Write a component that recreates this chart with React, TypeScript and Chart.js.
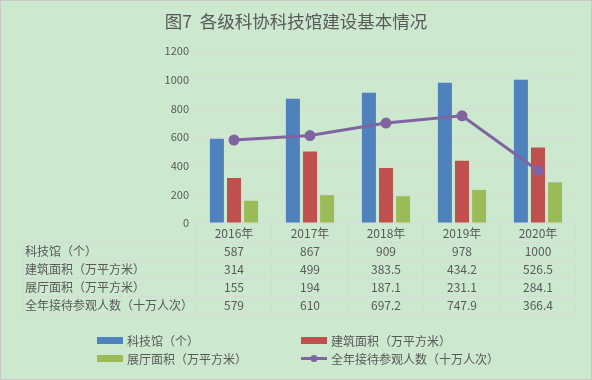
import React, { useEffect, useRef } from "react";
import { Chart, registerables } from "chart.js";

Chart.register(...registerables);

const title = "图7  各级科协科技馆建设基本情况";
const categories = ["2016年", "2017年", "2018年", "2019年", "2020年"];
const seriesNames = [
  "科技馆（个）",
  "建筑面积（万平方米）",
  "展厅面积（万平方米）",
  "全年接待参观人数（十万人次）",
];
const museums = [587, 867, 909, 978, 1000];
const buildingArea = [314, 499, 383.5, 434.2, 526.5];
const hallArea = [155, 194, 187.1, 231.1, 284.1];
const visitors = [579, 610, 697.2, 747.9, 366.4];
const yMin = 0;
const yMax = 1200;
const yStep = 200;

const FONT = "'Noto Sans CJK SC', 'Noto Sans', sans-serif";
const TEXT = "#595959";
const GRID = "#D9D9D9";
const BG = "#CCE8CF";
const COLORS = ["#4F81BD", "#C0504D", "#9BBB59", "#8064A2"];

const tableRows = [museums, buildingArea, hallArea, visitors];

const decorPlugin = {
  id: "decor",
  beforeDraw(chart: any) {
    const { ctx, width, height } = chart;
    ctx.save();
    ctx.fillStyle = BG;
    ctx.fillRect(0, 0, width, height);
    ctx.strokeStyle = "#C8C8C8";
    ctx.lineWidth = 1;
    ctx.strokeRect(0.5, 0.5, width - 1, height - 1);
    // title
    ctx.fillStyle = TEXT;
    ctx.font = `17.5px ${FONT}`;
    ctx.textAlign = "center";
    ctx.textBaseline = "middle";
    ctx.fillText(title, width / 2, 21);
    ctx.restore();
  },
  afterDraw(chart: any) {
    const { ctx, chartArea } = chart;
    const xs = chart.scales.x;
    const n = categories.length;
    const left = chartArea.left;
    const right = chartArea.right;
    const cw = (right - left) / n;
    const top = chartArea.bottom;
    const headerBottom = xs.bottom;
    const rowH = 18;
    const tableLeft = 23;
    const tableBottom = headerBottom + rowH * tableRows.length;
    ctx.save();
    ctx.strokeStyle = GRID;
    ctx.lineWidth = 1;
    ctx.beginPath();
    // axis line
    ctx.moveTo(left, Math.round(top) + 0.5);
    ctx.lineTo(right, Math.round(top) + 0.5);
    // horizontal row lines
    for (let r = 0; r <= tableRows.length; r++) {
      const y = Math.round(headerBottom + r * rowH) + 0.5;
      ctx.moveTo(tableLeft, y);
      ctx.lineTo(right, y);
    }
    // vertical lines
    ctx.moveTo(tableLeft + 0.5, headerBottom);
    ctx.lineTo(tableLeft + 0.5, tableBottom);
    for (let i = 0; i <= n; i++) {
      const x = Math.round(left + i * cw) - 0.5;
      ctx.moveTo(x, top);
      ctx.lineTo(x, tableBottom);
    }
    ctx.stroke();

    ctx.fillStyle = TEXT;
    ctx.font = `12px ${FONT}`;
    ctx.textBaseline = "middle";
    for (let r = 0; r < tableRows.length; r++) {
      const yc = headerBottom + r * rowH + rowH / 2 + 0.5;
      ctx.textAlign = "left";
      ctx.fillText(seriesNames[r], tableLeft + 2, yc);
      ctx.textAlign = "center";
      for (let i = 0; i < n; i++) {
        ctx.fillText(String(tableRows[r][i]), xs.getPixelForValue(i), yc);
      }
    }

    // legend
    const legendItems = [
      { x: 97, y: 340.5, i: 0 },
      { x: 301, y: 340.5, i: 1 },
      { x: 97, y: 358.5, i: 2 },
      { x: 301, y: 358.5, i: 3 },
    ];
    ctx.textAlign = "left";
    for (const it of legendItems) {
      const ds = chart.data.datasets[it.i];
      const color = ds.borderColor || ds.backgroundColor;
      if (ds.type === "line") {
        ctx.strokeStyle = color;
        ctx.lineWidth = 3;
        ctx.beginPath();
        ctx.moveTo(it.x, it.y);
        ctx.lineTo(it.x + 26, it.y);
        ctx.stroke();
        ctx.fillStyle = color;
        ctx.beginPath();
        ctx.arc(it.x + 13, it.y, 3.5, 0, Math.PI * 2);
        ctx.fill();
      } else {
        ctx.fillStyle = ds.backgroundColor;
        ctx.fillRect(it.x, it.y - 3.5, 26, 7);
      }
      ctx.fillStyle = TEXT;
      ctx.fillText(ds.label, it.x + 30, it.y + 0.5);
    }
    ctx.restore();
  },
};

export default function App() {
  const ref = useRef<HTMLCanvasElement | null>(null);
  useEffect(() => {
    document.body.style.margin = "0";
    const canvas = ref.current;
    if (!canvas) return;
    const barCommon = { barPercentage: 0.82, categoryPercentage: 0.675, order: 1 };
    const chart = new Chart(canvas, {
      type: "bar",
      data: {
        labels: categories,
        datasets: [
          { type: "bar", label: seriesNames[0], data: museums, backgroundColor: COLORS[0], ...barCommon },
          { type: "bar", label: seriesNames[1], data: buildingArea, backgroundColor: COLORS[1], ...barCommon },
          { type: "bar", label: seriesNames[2], data: hallArea, backgroundColor: COLORS[2], ...barCommon },
          {
            type: "line",
            label: seriesNames[3],
            data: visitors,
            borderColor: COLORS[3],
            backgroundColor: COLORS[3],
            borderWidth: 3,
            pointRadius: 4,
            pointBackgroundColor: COLORS[3],
            pointBorderColor: COLORS[3],
            tension: 0,
            order: 0,
          },
        ] as any,
      },
      plugins: [decorPlugin],
      options: {
        animation: false,
        responsive: false,
        devicePixelRatio: 1,
        layout: { padding: { top: 51, right: 16, bottom: 138, left: 0 } },
        plugins: {
          legend: { display: false },
          title: { display: false },
          tooltip: { enabled: false },
        },
        scales: {
          x: {
            grid: { display: false, drawTicks: false },
            border: { display: false },
            ticks: { color: TEXT, font: { family: FONT, size: 12 }, padding: 3 },
            afterFit: (s: any) => {
              s.height = 19;
            },
          },
          y: {
            min: yMin,
            max: yMax,
            grid: { color: GRID, drawTicks: false },
            border: { display: false },
            ticks: {
              stepSize: yStep,
              color: TEXT,
              font: { family: FONT, size: 11 },
              padding: 7,
              callback: (v: any) => String(v),
            },
            afterFit: (s: any) => {
              s.width = 196;
            },
          },
        },
      } as any,
    });
    return () => chart.destroy();
  }, []);
  return (
    <div style={{ width: 592, height: 380 }}>
      <canvas ref={ref} width={592} height={380} style={{ display: "block", width: 592, height: 380 }} />
    </div>
  );
}
